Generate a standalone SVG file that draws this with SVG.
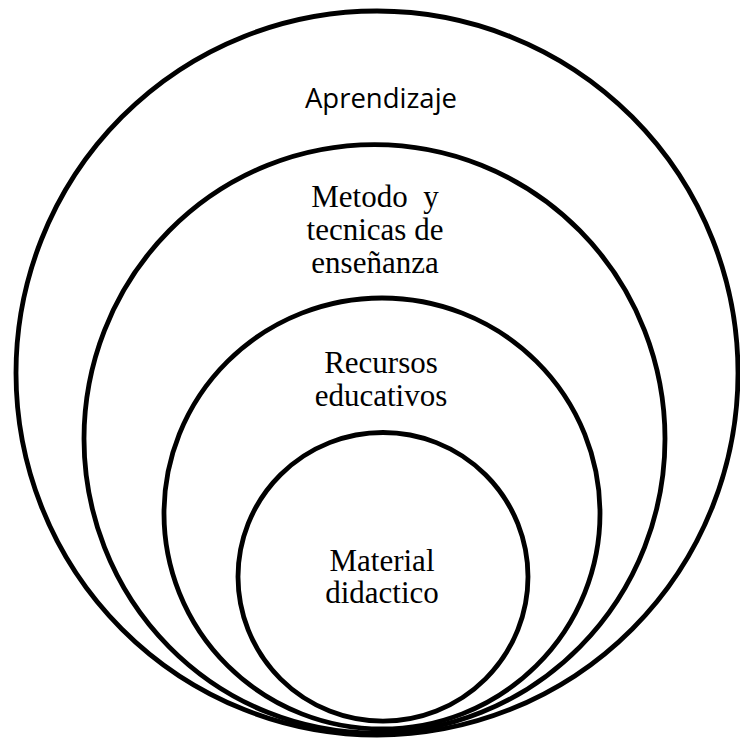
<svg xmlns="http://www.w3.org/2000/svg" width="740" height="739" viewBox="0 0 740 739">
<style>
.c{fill:none;stroke:#000;stroke-width:4.8}
.s{font-family:"Liberation Serif","Times New Roman",serif;font-size:31px;fill:#000;text-anchor:middle}
.a{font-family:"Open Sans","Noto Sans",sans-serif;font-size:27.5px;fill:#000;text-anchor:middle}
</style>
<rect width="740" height="739" fill="#fff"/>
<g id="aprendizaje">
<ellipse class="c" cx="377" cy="373" rx="361" ry="362"/>
<text class="a" x="381" y="108">Aprendizaje</text>
</g>
<g id="metodo">
<ellipse class="c" cx="374.5" cy="438.8" rx="290.5" ry="294.2"/>
<text class="s" x="375" y="207" xml:space="preserve">Metodo  y</text>
<text class="s" x="375" y="240">tecnicas de</text>
<text class="s" x="375" y="272.5">enseñanza</text>
</g>
<g id="recursos">
<ellipse class="c" cx="382" cy="513.5" rx="218" ry="215.5"/>
<text class="s" x="381" y="373">Recursos</text>
<text class="s" x="381" y="405.5">educativos</text>
</g>
<g id="material">
<ellipse class="c" cx="383" cy="576.8" rx="145" ry="144.3"/>
<text class="s" x="382" y="570.5">Material</text>
<text class="s" x="382" y="603">didactico</text>
</g>
<g id="connectors"/>
</svg>
